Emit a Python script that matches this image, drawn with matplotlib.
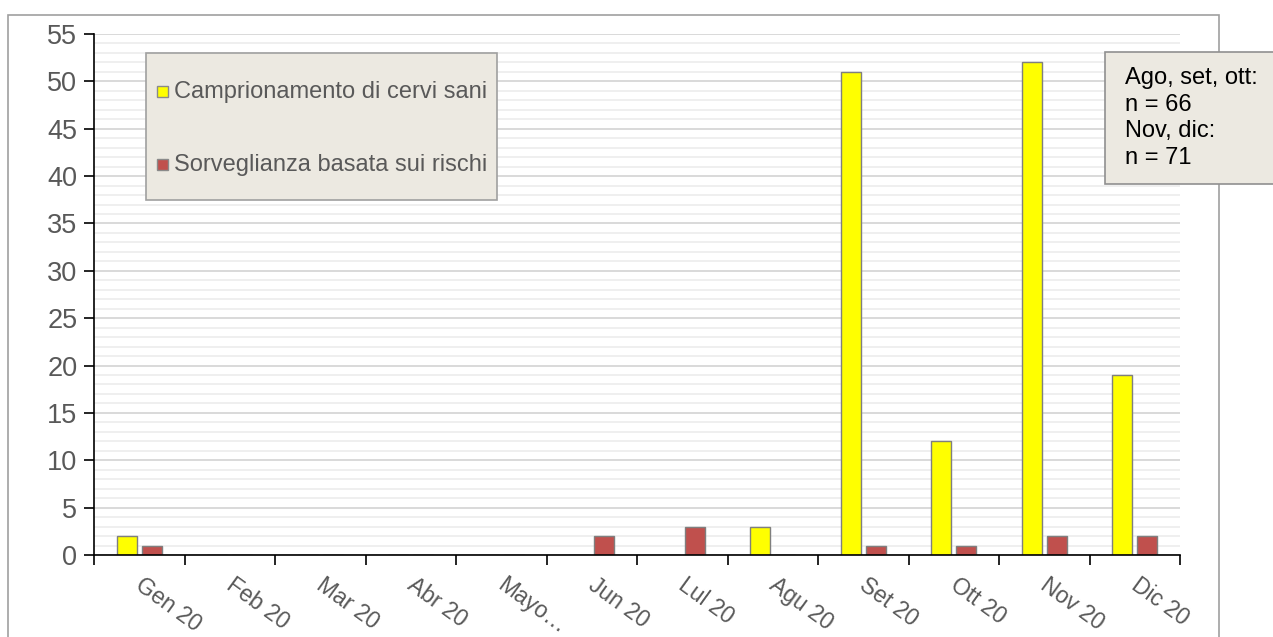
import matplotlib
matplotlib.use("Agg")
import matplotlib.pyplot as plt
import numpy as np
from matplotlib.patches import Rectangle

months = ["Gen 20", "Feb 20", "Mar 20", "Abr 20", "Mayo…", "Jun 20",
          "Lul 20", "Agu 20", "Set 20", "Ott 20", "Nov 20", "Dic 20"]
campionamento = [2, 0, 0, 0, 0, 0, 0, 3, 51, 12, 52, 19]
sorveglianza = [1, 0, 0, 0, 0, 2, 3, 0, 1, 1, 2, 2]
series_names = ["Camprionamento di cervi sani", "Sorveglianza basata sui rischi"]
series_colors = ['#ffff00', '#c0504d']
note_text = "Ago, set, ott:\nn = 66\nNov, dic:\nn = 71"

plt.rcParams['font.family'] = ['Liberation Sans', 'DejaVu Sans']
W, H = 1273, 637
fig = plt.figure(figsize=(W / 100, H / 100), dpi=100)

def fx(px):
    return px / W

def fy(py):
    return 1 - py / H

# outer chart frame
fig.patches.append(Rectangle((fx(8), -0.05), fx(1219 - 8), fy(15) + 0.05,
                             transform=fig.transFigure, facecolor='none',
                             edgecolor='#a0a0a0', linewidth=1.2, zorder=0))

ax = fig.add_axes([fx(94), fy(555), fx(1180 - 94), (555 - 34) / H])
x = np.arange(len(months))
bw = 0.22
off = 0.14
grey_txt = '#595959'

for v in range(0, 56):
    if v % 5 == 0:
        ax.axhline(v, color='#d9d9d9', lw=1.4, zorder=0)
    else:
        ax.axhline(v, color='#efefef', lw=1.4, zorder=0)

ax.bar(x - off, campionamento, width=bw, color=series_colors[0], edgecolor='#7f7f7f',
       linewidth=1.0, zorder=3)
ax.bar(x + off, sorveglianza, width=bw, color=series_colors[1], edgecolor='#7f7f7f',
       linewidth=1.0, zorder=3)

ax.set_xlim(-0.5, len(months) - 0.5)
ax.set_ylim(0, 55)
ax.set_yticks(np.arange(0, 56, 5))
ax.tick_params(axis='y', length=7, width=1.2, direction='out', labelsize=19.5,
               labelcolor=grey_txt, pad=5)
ax.set_xticks(np.arange(-0.5, len(months), 1.0))
ax.set_xticklabels([])
ax.tick_params(axis='x', length=7, width=1.2, direction='out')
for i, m in enumerate(months):
    ax.text(i + 0.06, -1.9, m, rotation=-36, rotation_mode='anchor',
            ha='left', va='top', fontsize=16.5, color=grey_txt, clip_on=False)

for s in ['top', 'right']:
    ax.spines[s].set_visible(False)
for s in ['left', 'bottom']:
    ax.spines[s].set_linewidth(1.2)
    ax.spines[s].set_zorder(5)
ax.set_facecolor('white')

# legend box (manual, to match the reference layout)
fig.patches.append(Rectangle((fx(146), fy(200)), fx(497 - 146), (200 - 53) / H,
                             transform=fig.transFigure, facecolor='#ece9e1',
                             edgecolor='#a0a0a0', linewidth=1.2, zorder=5))
for name, col, yc in zip(series_names, series_colors, [91, 164]):
    fig.patches.append(Rectangle((fx(157), fy(yc + 5.5)), fx(11), 11 / H,
                                 transform=fig.transFigure, facecolor=col,
                                 edgecolor='#8a8a8a', linewidth=1.0, zorder=6))
    fig.text(fx(174), fy(yc + 1), name, ha='left', va='center', fontsize=17,
             color=grey_txt, zorder=7)

# note box
fig.patches.append(Rectangle((fx(1105), fy(184)), fx(1290 - 1105), (184 - 52) / H,
                             transform=fig.transFigure, facecolor='#ece9e1',
                             edgecolor='#909090', linewidth=1.2, zorder=5))
fig.text(fx(1125), fy(67), note_text, ha='left', va='top', fontsize=17,
         color='black', linespacing=1.27, zorder=6)

fig.savefig('out.png', dpi=100, facecolor='white')
